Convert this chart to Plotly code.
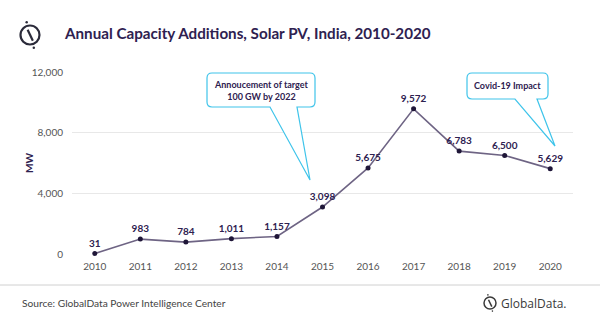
import plotly.graph_objects as go

years = [2010, 2011, 2012, 2013, 2014, 2015, 2016, 2017, 2018, 2019, 2020]
capacity_mw = [31, 983, 784, 1011, 1157, 3098, 5675, 9572, 6783, 6500, 5629]
y_ticks = [0, 4000, 8000, 12000]
y_tick_labels = ["0", "4,000", "8,000", "12,000"]
title_text = "Annual Capacity Additions, Solar PV, India, 2010-2020"
source_text = "Source: GlobalData Power Intelligence Center"
callout1_text = "Annoucement of target<br>100 GW by 2022"
callout2_text = "Covid-19 Impact"

W, H = 600, 322
L, R, T, B = 72, 27, 72, 68
PW, PH = W - L - R, H - T - B

def fx(px):
    return (px - L) / PW

def fy(py):
    return (H - B - py) / PH

FONT = "Lato"
DARK = "#2e2150"
LINE = "#6e6484"
BLUE = "#3fc4ea"

fig = go.Figure()
fig.add_trace(go.Scatter(
    x=years, y=capacity_mw, mode="lines+markers+text",
    line=dict(color=LINE, width=1.6),
    marker=dict(color="#1f1638", size=5),
    text=[f"{v:,}" for v in capacity_mw],
    textposition="top center",
    textfont=dict(family=FONT, size=10, color=DARK, weight="bold"),
    cliponaxis=False, hoverinfo="skip", showlegend=False,
))

shapes = []
annotations = []

def callout(x0, y0, x1, y1, ta, tb, tip, r=5):
    path = (f"M {fx(x0 + r)},{fy(y0)} L {fx(x1 - r)},{fy(y0)} "
            f"Q {fx(x1)},{fy(y0)} {fx(x1)},{fy(y0 + r)} "
            f"L {fx(x1)},{fy(y1 - r)} Q {fx(x1)},{fy(y1)} {fx(x1 - r)},{fy(y1)} "
            f"L {fx(tb)},{fy(y1)} L {fx(tip[0])},{fy(tip[1])} L {fx(ta)},{fy(y1)} "
            f"L {fx(x0 + r)},{fy(y1)} Q {fx(x0)},{fy(y1)} {fx(x0)},{fy(y1 - r)} "
            f"L {fx(x0)},{fy(y0 + r)} Q {fx(x0)},{fy(y0)} {fx(x0 + r)},{fy(y0)} Z")
    shapes.append(dict(type="path", path=path, xref="paper", yref="paper",
                       line=dict(color=BLUE, width=1.2), fillcolor="white", layer="above"))

callout(207, 73, 315, 107, 270, 297, (310, 180))
callout(467, 73, 548, 99, 515, 537, (555, 146))

annotations.append(dict(text=callout1_text, x=fx(261), y=fy(90), xref="paper", yref="paper",
                        showarrow=False, font=dict(family=FONT, size=9, color=DARK, weight="bold"),
                        xanchor="center", yanchor="middle", align="center"))
annotations.append(dict(text=callout2_text, x=fx(507.5), y=fy(86), xref="paper", yref="paper",
                        showarrow=False, font=dict(family=FONT, size=9, color=DARK, weight="bold"),
                        xanchor="center", yanchor="middle"))

# Title
annotations.append(dict(text=title_text, x=fx(62), y=fy(33), xref="paper", yref="paper",
                        showarrow=False, xanchor="left", yanchor="middle",
                        font=dict(family=FONT, size=15.2, color=DARK, weight="bold")))
# Axis title
annotations.append(dict(text="MW", x=fx(29), y=fy(163), xref="paper", yref="paper",
                        showarrow=False, textangle=-90, xanchor="center", yanchor="middle",
                        font=dict(family=FONT, size=10, color=DARK, weight="bold")))
# Source
annotations.append(dict(text=source_text, x=fx(20), y=fy(303), xref="paper", yref="paper",
                        showarrow=False, xanchor="left", yanchor="middle",
                        font=dict(family=FONT, size=10.2, color="#444444")))
# Footer logo text
annotations.append(dict(text="GlobalData.", x=fx(499), y=fy(303), xref="paper", yref="paper",
                        showarrow=False, xanchor="left", yanchor="middle",
                        font=dict(family="Open Sans", size=12, color="#3a3a3a")))

# Footer rule
shapes.append(dict(type="line", xref="paper", yref="paper", x0=fx(0), x1=fx(600),
                   y0=fy(285), y1=fy(285), line=dict(color="#d0d0d0", width=1)))

def logo(cx, cy, rad, color, w):
    shapes.append(dict(type="circle", xref="paper", yref="paper",
                       x0=fx(cx - rad), x1=fx(cx + rad), y0=fy(cy - rad), y1=fy(cy + rad),
                       line=dict(color=color, width=w)))
    shapes.append(dict(type="line", xref="paper", yref="paper",
                       x0=fx(cx - rad * 0.25), y0=fy(cy - rad * 0.55),
                       x1=fx(cx + rad * 0.3), y1=fy(cy + rad * 0.6),
                       line=dict(color=color, width=w)))
    for dx, dy in [(-0.35, -1.35), (0.4, 1.35)]:
        d = rad * 0.13
        shapes.append(dict(type="circle", xref="paper", yref="paper",
                           x0=fx(cx + dx * rad - d), x1=fx(cx + dx * rad + d),
                           y0=fy(cy + dy * rad - d), y1=fy(cy + dy * rad + d),
                           fillcolor=color, line=dict(color=color, width=0)))

logo(30, 35, 9.5, "#2b2b3a", 2.2)
logo(490, 303, 6, "#3a3a3a", 1.5)

fig.update_layout(
    width=W, height=H, margin=dict(l=L, r=R, t=T, b=B),
    paper_bgcolor="white", plot_bgcolor="white",
    shapes=shapes, annotations=annotations,
    xaxis=dict(range=[2009.5, 2020.5], tickvals=years, ticktext=[str(y) for y in years],
               showgrid=False, zeroline=False, showline=False, ticks="",
               ticklabelstandoff=5,
               tickfont=dict(family=FONT, size=10, color="#555555"), fixedrange=True),
    yaxis=dict(range=[0, 12000], tickvals=y_ticks, ticktext=y_tick_labels,
               showgrid=True, gridcolor="#e8e8e8", gridwidth=1, zeroline=False,
               showline=False, ticks="", ticklabelstandoff=8,
               tickfont=dict(family=FONT, size=10, color="#555555"), fixedrange=True),
)

fig.write_html("out.html")
